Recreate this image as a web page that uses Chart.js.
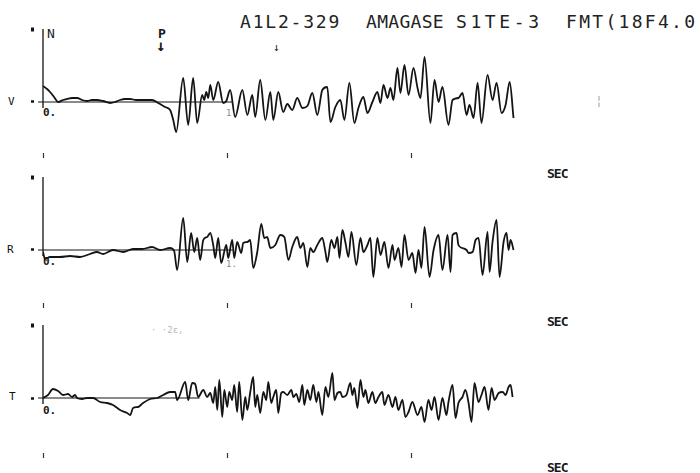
<!DOCTYPE html>
<html lang="en">
<head>
<meta charset="UTF-8">
<title>A1L2-329 AMAGASE S1TE-3</title>
<script src="https://cdn.jsdelivr.net/npm/chart.js"></script>
<style>
    body { margin: 0; background: #fff; }
    .sheet {
        position: relative;
        width: 700px;
        height: 473px;
        overflow: hidden;
        background: #fff;
        color: #1a1a1a;
        font-family: 'DejaVu Sans Mono', monospace;
    }
    .sheet canvas { position: absolute; left: 0; }
    .lbl { position: absolute; line-height: 1; white-space: nowrap; }
    .title { font-size: 18px; top: 13px; color: #222; }
    .comp { font-size: 11px; left: 8px; color: #111; }
    .zero { font-size: 11px; font-weight: bold; left: 43px; }
    .one { font-size: 9px; left: 226px; color: #888; }
    .sec { font-size: 13px; font-weight: bold; left: 547px; letter-spacing: -1px; }
</style>
</head>
<body>
<div class="sheet">
    <div class="lbl title" style="left:240px;letter-spacing:1.8px">A1L2-329</div>
    <div class="lbl title" style="left:366px;letter-spacing:0.3px">AMAGASE</div>
    <div class="lbl title" style="left:456px;letter-spacing:3.6px">S1TE-3</div>
    <div class="lbl title" style="left:566px;letter-spacing:2.3px">FMT(18F4.0)</div>

    <div class="lbl" style="left:47px;top:27px;font-size:13px">N</div>
    <div class="lbl" style="left:158px;top:27px;font-size:13px;font-weight:bold">P</div>
    <div class="lbl" style="left:156px;top:38px;font-size:16px;font-weight:bold">↓</div>
    <div class="lbl" style="left:273px;top:42px;font-size:11px;color:#222">↓</div>
    <div class="lbl" style="left:595px;top:94px;font-size:13px;color:#aaa">¦</div>
    <div class="lbl" style="left:151px;top:326px;font-size:9px;color:#b8b8b8">· ·2ε,</div>

    <div class="lbl comp" style="top:96px">V</div>
    <div class="lbl comp" style="top:244px;left:7px">R</div>
    <div class="lbl comp" style="top:391px;left:9px">T</div>

    <div class="lbl zero" style="top:107px">0.</div>
    <div class="lbl zero" style="top:256px">0.</div>
    <div class="lbl zero" style="top:405px">0.</div>
    <div class="lbl one" style="top:109px">1.</div>
    <div class="lbl one" style="top:260px">1.</div>

    <div class="lbl sec" style="top:167px">SEC</div>
    <div class="lbl sec" style="top:315px">SEC</div>
    <div class="lbl sec" style="top:461px">SEC</div>

    <canvas id="chart-v" width="522" height="142" style="top:19px"></canvas>
    <canvas id="chart-r" width="522" height="144" style="top:167px"></canvas>
    <canvas id="chart-t" width="522" height="146" style="top:315px"></canvas>
</div>
<script>
    // time in seconds, amplitude in plot units above the zero line
    const xTicks = [0, 10, 20];
    const ampTop = 73;
    const baseEnds = [10.26, 10.3, 8.5];

    const vTime = [0, 0.22, 0.38, 0.60, 0.82, 1.09, 1.30, 1.58, 1.85, 2.12,
        2.39, 2.66, 2.93, 3.26, 3.64, 3.91, 4.18, 4.46, 4.73, 5.05,
        5.38, 5.71, 5.92, 6.25, 6.63, 6.90, 7.07, 7.23,
        7.61, 7.88, 8.15, 8.37, 8.64, 8.75, 8.86, 8.97, 9.08, 9.24,
        9.51, 9.78, 9.95, 10.16, 10.43, 10.82, 11.09, 11.36, 11.52, 11.79,
        12.07, 12.34, 12.50, 12.77, 13.04, 13.26, 13.53, 13.80, 14.08, 14.35,
        14.62, 14.89, 15.16, 15.43, 15.60, 15.87, 16.14, 16.36, 16.63, 16.90,
        17.12, 17.39, 17.61, 17.88, 18.15, 18.32, 18.48, 18.70, 18.86, 19.02,
        19.24, 19.40, 19.62, 19.84, 20.11, 20.33, 20.49, 20.71, 21.03, 21.25,
        21.47, 21.68, 22.01, 22.23, 22.55, 22.77, 22.99, 23.15, 23.37, 23.59,
        23.80, 24.13, 24.40, 24.62, 24.89, 25.11, 25.33, 25.54];
    const vAmp = [16, 13, 10, 5, 0, 2, 3, 4, 4, 2,
        1, 2, 2, 1, -1, 0, 2, 3, 3, 2,
        2, 2, 2, -1, -5, -8, -18, -30,
        24, -23, 24, -21, 7, 2, 10, 4, 17, 2,
        20, -1, 1, 12, -15, 12, -13, 7, -15, 22,
        -18, 10, -18, 10, -10, -2, -8, 4, -6, -4,
        9, -13, 12, 15, -20, -5, 2, -18, 19, -21,
        -6, 5, -11, 0, 10, -1, 17, 4, 14, 2,
        34, 9, 37, 7, 34, 14, 4, 45, -21, 22,
        0, 15, -23, 2, 4, 9, -13, -3, -16, 19,
        -21, 27, 2, 19, -11, -3, 20, -16];

    const rTime = [0, 0.11, 0.38, 0.92, 1.47, 2.01, 2.55, 2.93, 3.26, 3.80,
        4.35, 4.89, 5.38, 5.92, 6.36, 6.90, 7.12, 7.28, 7.61, 7.83,
        8.04, 8.21, 8.37, 8.53, 8.70, 8.91, 9.08, 9.24, 9.35, 9.51,
        9.67, 9.95, 10.05, 10.27, 10.38, 10.54, 10.76, 10.87, 11.09, 11.25,
        11.41, 11.63, 11.85, 12.01, 12.17, 12.34, 12.61, 12.88, 13.10, 13.32,
        13.53, 13.80, 13.97, 14.13, 14.35, 14.51, 14.67, 14.89, 15.16, 15.33,
        15.43, 15.65, 15.82, 15.98, 16.09, 16.25, 16.41, 16.58, 16.74, 17.01,
        17.23, 17.39, 17.61, 17.77, 17.93, 18.15, 18.32, 18.53, 18.75, 18.97,
        19.08, 19.29, 19.46, 19.62, 19.84, 20.05, 20.22, 20.38, 20.54, 20.71,
        20.98, 21.20, 21.47, 21.68, 21.96, 22.12, 22.23, 22.45, 22.55, 22.77,
        22.99, 23.10, 23.32, 23.48, 23.64, 23.86, 24.13, 24.24, 24.40, 24.62,
        24.78, 25.00, 25.16, 25.27, 25.38, 25.54];
    const rAmp = [-2, -9, -7, -7, -6, -7, -4, -2, -4, 0,
        -2, 1, 1, 3, 0, 2, -1, -20, 32, -12,
        17, -2, 12, -10, 10, 13, 17, 5, -8, 12,
        -13, 5, -8, 10, -8, 8, -3, 7, 8, 10,
        -18, -2, 26, 12, 13, 2, 5, 15, 13, -10,
        3, 13, 2, 7, -17, 2, -2, 5, 12, -2,
        -12, 10, 2, 13, -8, 20, 8, -7, 18, -15,
        12, -2, 5, 12, -27, 12, -5, 8, -18, 5,
        -10, 2, -17, 15, -10, -3, -23, 0, -18, 23,
        -27, 0, 15, -20, 15, -22, 15, 17, 5, 2,
        0, -3, -2, 10, 12, -25, 18, -22, 8, 30,
        -27, 8, 17, 0, 10, 0];

    const tTime = [0, 0.27, 0.54, 0.82, 1.09, 1.36, 1.58, 1.74, 1.85, 2.12,
        2.39, 2.72, 3.10, 3.48, 3.80, 4.18, 4.57, 4.73, 4.89, 5.16,
        5.43, 5.82, 6.20, 6.52, 6.90, 7.17, 7.28, 7.72, 7.88, 8.10,
        8.26, 8.42, 8.70, 8.91, 9.08, 9.24, 9.35, 9.46, 9.57, 9.73,
        9.84, 10.00, 10.11, 10.27, 10.38, 10.54, 10.65, 10.82, 10.98, 11.09,
        11.25, 11.41, 11.52, 11.63, 11.79, 11.96, 12.12, 12.23, 12.39, 12.50,
        12.66, 12.77, 12.93, 13.04, 13.26, 13.48, 13.59, 13.75, 13.91, 14.08,
        14.18, 14.35, 14.51, 14.67, 14.84, 14.95, 15.16, 15.33, 15.49, 15.71,
        15.82, 15.98, 16.14, 16.25, 16.47, 16.68, 16.79, 16.90, 17.07, 17.23,
        17.39, 17.50, 17.66, 17.88, 18.04, 18.21, 18.42, 18.53, 18.75, 18.97,
        19.13, 19.29, 19.51, 19.67, 19.84, 20.05, 20.33, 20.54, 20.71, 20.92,
        21.09, 21.25, 21.47, 21.68, 21.90, 22.01, 22.23, 22.39, 22.55, 22.77,
        22.93, 23.10, 23.26, 23.42, 23.64, 23.80, 23.97, 24.18, 24.35, 24.51,
        24.73, 24.95, 25.11, 25.27, 25.38, 25.49];
    const tAmp = [0, 3, 9, 7, 3, 4, 1, 3, 0, -1,
        0, 0, -4, -5, -7, -12, -15, -17, -10, -9,
        -5, -1, 0, 3, 6, 6, -2, 16, -2, 15,
        14, 1, 8, 1, 5, -5, 11, -12, 18, -19,
        8, -9, 6, -2, 13, -14, 16, -22, 1, -12,
        6, 21, -9, 3, -15, 6, -2, 16, -5, 1,
        8, -15, 5, 6, 3, 8, 1, 4, -4, 13,
        -7, 8, -2, 13, -4, 6, -17, 11, 1, 25,
        -2, 5, 6, 1, 3, 15, 3, 10, -10, 18,
        1, 8, -5, 6, -5, 1, 6, -7, 3, -9,
        1, -12, -2, -19, -14, -4, -17, -9, -24, -2,
        -12, 1, -22, 0, -17, -4, 13, -20, -5, 1,
        8, -5, -24, 15, -4, 3, 11, -12, 10, -2,
        5, 6, 3, 11, 13, 1];

    const ink = '#141414';

    // vertical amplitude axis, from the top mark down just past zero
    const ampAxis = {
        id: 'ampAxis',
        afterDatasetsDraw(chart) {
            const { ctx, scales: { x, y } } = chart;
            const px = x.getPixelForValue(0);
            ctx.save();
            ctx.strokeStyle = ink;
            ctx.lineWidth = 1.3;
            ctx.beginPath();
            ctx.moveTo(px, y.getPixelForValue(ampTop));
            ctx.lineTo(px, y.getPixelForValue(-6));
            ctx.stroke();
            ctx.restore();
        }
    };

    function drawTrace(id, times, amps, yMin, baseEnd) {
        const ctx = document.getElementById(id).getContext('2d');
        return new Chart(ctx, {
            type: 'line',
            data: {
                datasets: [{
                    data: times.map((t, i) => ({ x: t, y: amps[i] })),
                    borderColor: ink,
                    borderWidth: 1.8,
                    pointRadius: 0,
                    cubicInterpolationMode: 'monotone',
                    borderJoinStyle: 'round'
                }, {
                    data: [{ x: -0.27, y: 0 }, { x: baseEnd, y: 0 }],
                    borderColor: ink,
                    borderWidth: 1,
                    pointRadius: 0,
                    clip: false
                }]
            },
            options: {
                responsive: false,
                animation: false,
                events: [],
                layout: { padding: { top: 10, left: 0, right: 0, bottom: 0 } },
                plugins: { legend: { display: false }, tooltip: { enabled: false } },
                scales: {
                    x: {
                        type: 'linear',
                        min: 0,
                        max: 26,
                        afterFit: s => { s.height = 8; },
                        afterBuildTicks: s => { s.ticks = xTicks.map(v => ({ value: v })); },
                        border: { display: false },
                        grid: { drawOnChartArea: false, tickLength: 5, tickColor: '#333', tickWidth: 1.2 },
                        ticks: { display: false }
                    },
                    y: {
                        min: yMin,
                        max: ampTop,
                        afterFit: s => { s.width = 43; },
                        afterBuildTicks: s => { s.ticks = [{ value: 0 }, { value: ampTop }]; },
                        border: { display: false },
                        grid: {
                            drawOnChartArea: false,
                            tickLength: 12,
                            tickBorderDash: [3, 30],
                            tickColor: ink,
                            tickWidth: c => (c.tick && c.tick.value === 0 ? 2.5 : 4)
                        },
                        ticks: { display: false }
                    }
                }
            },
            plugins: [ampAxis]
        });
    }

    drawTrace('chart-v', vTime, vAmp, -51, baseEnds[0]);
    drawTrace('chart-r', rTime, rAmp, -53, baseEnds[1]);
    drawTrace('chart-t', tTime, tAmp, -55, baseEnds[2]);
</script>
</body>
</html>
